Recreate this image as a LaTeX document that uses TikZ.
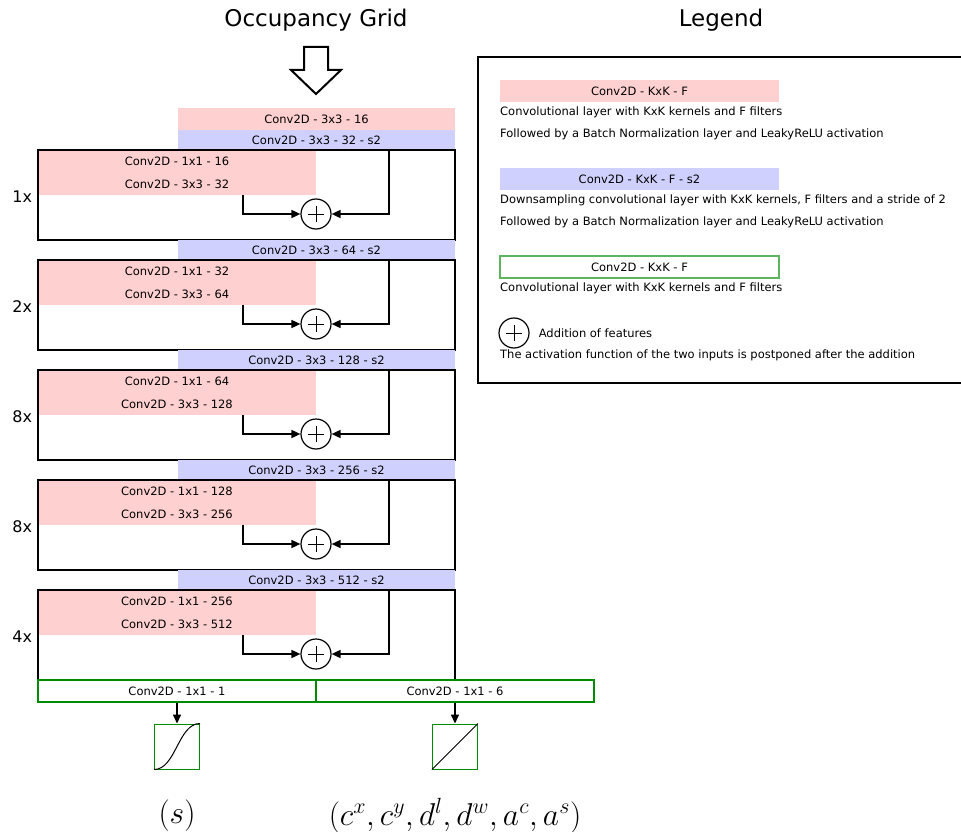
\documentclass[tikz,border=0pt]{standalone}
\usepackage{amsmath}
\usepackage{fontspec}
\setmainfont{DejaVu Sans}
\usepackage{xcolor}
\usepackage{tikz}
\usetikzlibrary{arrows.meta, positioning}

\definecolor{convpink}{RGB}{255,208,208}
\definecolor{convblue}{RGB}{208,208,255}
\definecolor{headgreen}{RGB}{0,140,0}
\definecolor{keygreen}{RGB}{95,180,95}

\begin{document}
\begin{tikzpicture}[x=1pt, y=-1pt,
        title/.style={font=\fontsize{23}{27}\selectfont},
        conv/.style={rectangle, fill=convpink, inner sep=0pt, minimum height=22pt, font=\fontsize{11.5}{13}\selectfont},
        down/.style={conv, fill=convblue, minimum height=20pt, minimum width=277pt},
        block/.style={rectangle, draw, line width=1.6pt, minimum width=417pt, minimum height=90pt, inner sep=0pt},
        head/.style={conv, fill=none, draw=headgreen, line width=1.6pt, minimum width=278pt},
        act/.style={rectangle, draw=headgreen, line width=1pt, minimum size=45pt, inner sep=0pt},
        add/.style={circle, draw, line width=1.2pt, minimum size=30pt, inner sep=0pt,
            path picture={
                \draw[line width=0.8pt] ([xshift=7pt]path picture bounding box.west) -- ([xshift=-7pt]path picture bounding box.east);
                \draw[line width=0.8pt] (path picture bounding box.center) ++(0,-8) -- ++(0,16);
            }},
        rep/.style={font=\fontsize{16}{19}\selectfont, inner sep=0pt},
        desc/.style={anchor=west, inner sep=0pt, font=\fontsize{11.5}{13}\selectfont},
        output/.style={font=\fontsize{25}{30}\selectfont, scale=1.27},
        arrow/.style={-{Triangle[length=9pt,width=8pt]}, line width=1.6pt}
    ]
        \useasboundingbox (0,0) rectangle (961,832);

        % titles
        \node[title] (occ) at (316,20) {Occupancy Grid};
        \node[title] (leg) at (721,20) {Legend};

        % input arrow
        \draw[line width=2pt, line join=miter] (304,47) -- (328,47) -- (328,70) -- (341,70) -- (316,94) -- (291,70) -- (304,70) -- cycle;

        % backbone
        \node[conv, minimum width=277pt] (stem) at (316.5,119) {Conv2D - 3x3 - 16};
        \foreach \i/\rep/\fa/\fb in {0/1x/16/32, 1/2x/32/64, 2/8x/64/128, 3/8x/128/256, 4/4x/256/512} {
            \node[down] (down\i) at (316.5,140+110*\i) {Conv2D - 3x3 - \fb\ - s2};
            \node[conv, minimum width=278pt] (a\i) at (177,161.5+110*\i) {Conv2D - 1x1 - \fa};
            \node[conv, minimum width=278pt] (b\i) at (177,184+110*\i) {Conv2D - 3x3 - \fb};
            \node[block] (blk\i) at (246.5,195+110*\i) {};
            \node[rep, left=5pt of blk\i, yshift=-2pt] {\rep};
            \node[add] (add\i) at (316,214+110*\i) {};
            \draw[arrow] ([xshift=66pt]b\i.south) |- (add\i);
            \draw[arrow] ([xshift=72.5pt]down\i.south) |- (add\i);
        }

        % heads
        \node[head] (cls) at (177,691) {Conv2D - 1x1 - 1};
        \node[head] (reg) at (455,691) {Conv2D - 1x1 - 6};
        \node[act] (sig) at (177,746.5) {};
        \node[act] (lin) at (455,746.5) {};
        \draw[arrow] (cls) -- (sig);
        \draw[arrow] (reg) -- (lin);
        \draw[line width=1pt] (sig.south west) .. controls ([xshift=22pt]sig.south west) and ([xshift=-22pt]sig.north east) .. (sig.north east);
        \draw[line width=1pt] (lin.south west) -- (lin.north east);
        \node[output] (sout) at (177,816) {$(s)$};
        \node[output] (rout) at (455,816) {$(c^x, c^y, d^l, d^w, a^c, a^s)$};

        % legend
        \draw[line width=2pt] (961,57) -- (478,57) -- (478,383) -- (961,383);
        \node[conv, minimum width=279pt] (kconv) at (639.5,91) {Conv2D - KxK - F};
        \node[desc] (kconv1) at (500,112) {Convolutional layer with KxK kernels and F filters};
        \node[desc] (kconv2) at (500,134) {Followed by a Batch Normalization layer and LeakyReLU activation};
        \node[down, minimum width=279pt, minimum height=22pt] (kdown) at (639.5,179) {Conv2D - KxK - F - s2};
        \node[desc] (kdown1) at (500,200) {Downsampling convolutional layer with KxK kernels, F filters and a stride of 2};
        \node[desc] (kdown2) at (500,222) {Followed by a Batch Normalization layer and LeakyReLU activation};
        \node[conv, fill=none, draw=keygreen, line width=1.6pt, minimum width=279pt] (khead) at (639.5,267) {Conv2D - KxK - F};
        \node[desc] (khead1) at (500,288) {Convolutional layer with KxK kernels and F filters};
        \node[add] (kadd) at (514,333) {};
        \node[desc, right=9pt of kadd] (kadd1) {Addition of features};
        \node[desc] (kadd2) at (500,355) {The activation function of the two inputs is postponed after the addition};
    \end{tikzpicture}
\end{document}
